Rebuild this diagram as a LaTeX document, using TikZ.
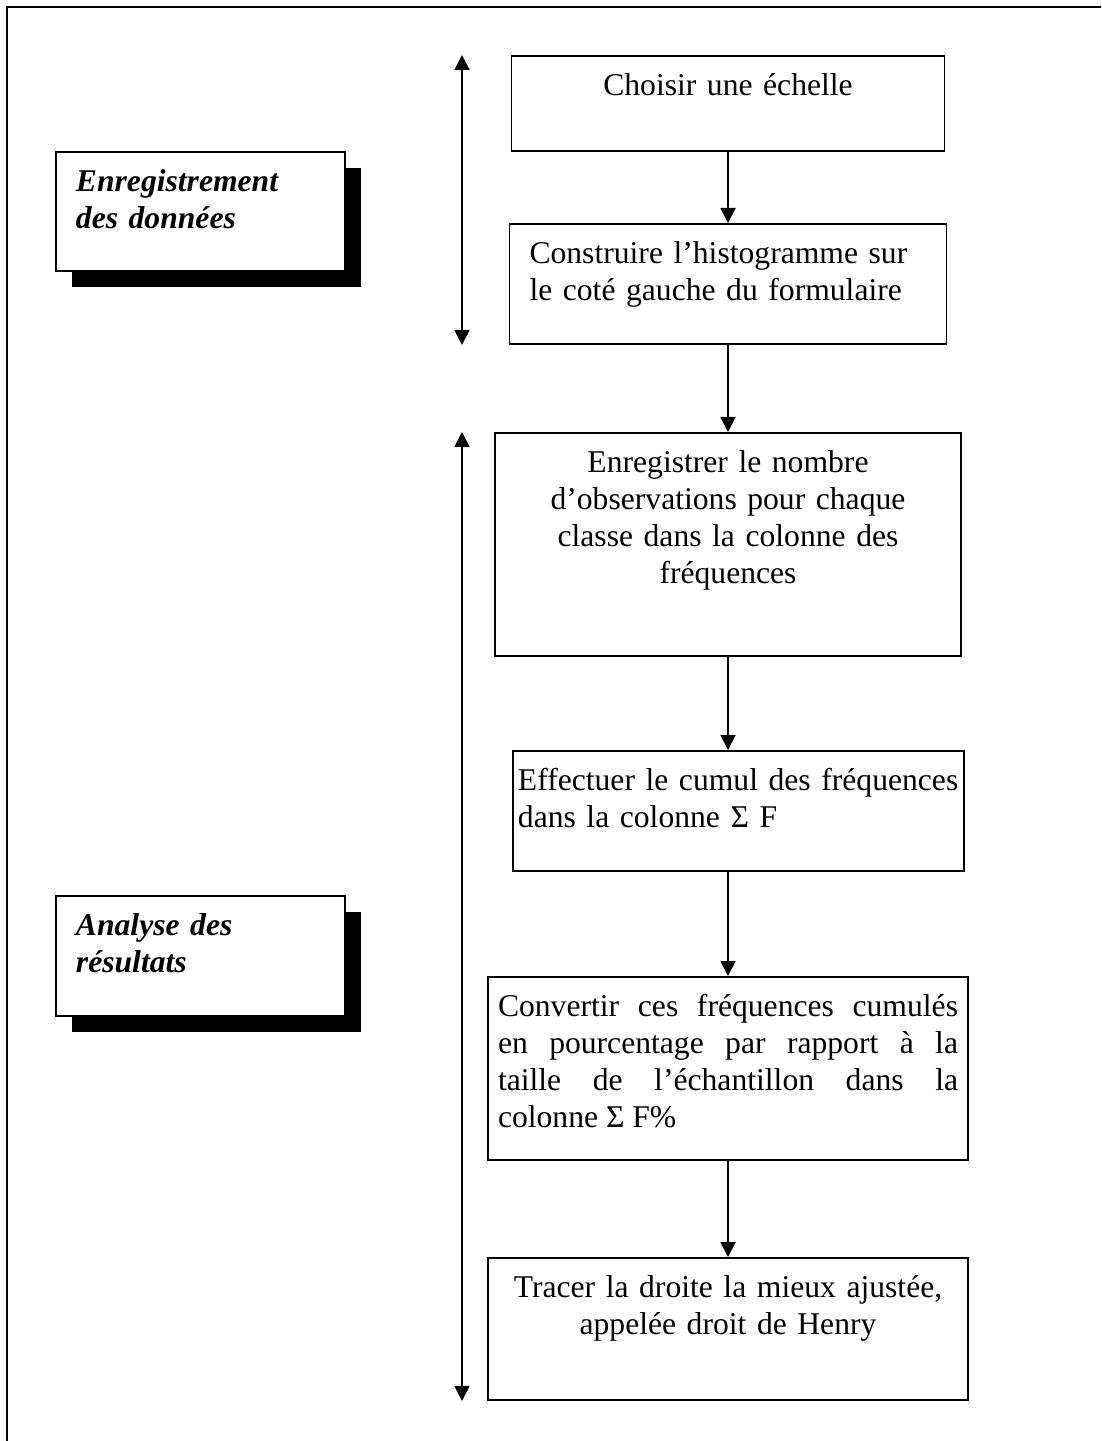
\documentclass[tikz,border=0pt]{standalone}
\usepackage{fontspec}
\setmainfont{Liberation Serif}
\usetikzlibrary{arrows.meta, positioning, shadows}

\begin{document}
\begin{tikzpicture}[
  every node/.style={font=\fontsize{18}{21}\selectfont},
  stepbox/.style={draw, fill=white, line width=1.1pt, inner xsep=0.2cm, inner ysep=0.2cm,
    text height=0.6cm, align=center, anchor=north},
  phasebox/.style={stepbox, anchor=north west, align=left, inner xsep=0.4cm,
    font=\fontsize{18}{21}\selectfont\bfseries\itshape,
    drop shadow={shadow xshift=0.32cm, shadow yshift=-0.32cm, opacity=1, fill=black}},
  arr/.style={-{Triangle[width=0.3cm,length=0.3cm]}, line width=1.1pt},
  dblarr/.style={{Triangle[width=0.3cm,length=0.3cm]}-{Triangle[width=0.3cm,length=0.3cm]}, line width=1.1pt}
]
  \useasboundingbox (0,0) rectangle (22.02,-28.82);
  % frame (top and left only)
  \draw[line width=1.3pt] (0.14,-28.82) -- (0.14,-0.14) -- (22.02,-0.14);

  % phases
  \node[phasebox, text width=4.98cm, text depth=1.38cm] (p1) at (1.10,-3.02) {Enregistrement\\des données};
  \node[phasebox, text width=4.98cm, text depth=1.40cm] (p2) at (1.10,-17.90) {Analyse des\\résultats};

  % steps
  \node[stepbox, text width=8.26cm, text depth=0.90cm] (s1) at (14.56,-1.10) {Choisir une échelle};
  \node[stepbox, align=left, inner xsep=0.4cm, text width=7.94cm, text depth=1.40cm] (s2) at (14.56,-4.46)
    {Construire l'histogramme sur\\le coté gauche du formulaire};
  \node[stepbox, text width=8.92cm, text depth=3.46cm] (s3) at (14.56,-8.64)
    {Enregistrer le nombre\\d'observations pour chaque\\classe dans la colonne des\\fréquences};
  \node[stepbox, anchor=north west, align=left, inner xsep=0.1cm, text width=8.82cm, text depth=1.40cm] (s4) at (10.24,-15.00)
    {Effectuer le cumul des fréquences\\dans la colonne Σ F};
  \node[stepbox, align=justify, text width=9.20cm, text depth=2.66cm] (s5) at (14.56,-19.52)
    {Convertir ces fréquences cumulés\linebreak en pourcentage par rapport à la\linebreak
     taille de l'échantillon dans la\linebreak colonne Σ F\%};
  \node[stepbox, text width=9.20cm, text depth=1.84cm] (s6) at (14.56,-25.14)
    {Tracer la droite la mieux ajustée,\\appelée droit de Henry};

  \draw[arr] (s1) -- (s2);
  \draw[arr] (s2) -- (s3);
  \draw[arr] (s3) -- (s3 |- s4.north);
  \draw[arr] (s3 |- s4.south) -- (s5);
  \draw[arr] (s5) -- (s6);

  % phase extents
  \coordinate (rail) at (9.24,0);
  \draw[dblarr] (rail |- s1.north) -- (rail |- s2.south);
  \draw[dblarr] (rail |- s3.north) -- (rail |- s6.south);
\end{tikzpicture}
\end{document}
